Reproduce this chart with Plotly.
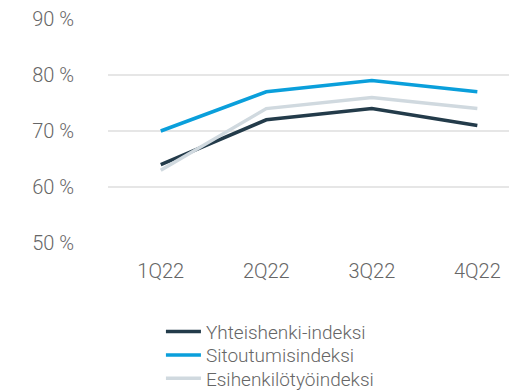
import plotly.graph_objects as go

quarters = ["1Q22", "2Q22", "3Q22", "4Q22"]
yhteishenki = [64, 72, 74, 71]
sitoutumis = [70, 77, 79, 77]
esihenkilo = [63, 74, 76, 74]
y_ticks = [50, 60, 70, 80, 90]
y_tick_text = [f"{v} %" for v in y_ticks]

series = [
    ("Yhteishenki-indeksi", yhteishenki, "#233B4A"),
    ("Sitoutumisindeksi", sitoutumis, "#0A9FDB"),
    ("Esihenkilötyöindeksi", esihenkilo, "#D0D9DF"),
]

FONT = "Roboto, Liberation Sans, Arial, sans-serif"
TEXT = "#666666"

fig = go.Figure()
legend_names = ["legend", "legend2", "legend3"]
for (name, vals, color), lg in zip(series, legend_names):
    fig.add_trace(go.Scatter(
        x=quarters, y=vals, name=name, mode="lines",
        line=dict(color=color, width=3.5), legend=lg,
    ))

# one legend box per series so the row spacing can be set exactly
legend_rows = [-0.396, -0.501, -0.604]
legend_layout = {}
for lg, ypos in zip(legend_names, legend_rows):
    legend_layout[lg] = dict(
        orientation="v", x=0.132, xanchor="left", y=ypos, yanchor="middle",
        font=dict(family=FONT, size=19, color=TEXT, weight=300),
        bgcolor="rgba(0,0,0,0)", itemwidth=35,
    )

fig.update_layout(
    width=509, height=390,
    margin=dict(l=108, r=0, t=19, b=147, autoexpand=False),
    paper_bgcolor="white", plot_bgcolor="white",
    font=dict(family=FONT, size=20, color=TEXT, weight=300),
    showlegend=True,
    **legend_layout,
    xaxis=dict(
        range=[-0.5, 3.3], showgrid=False, zeroline=False, showline=False,
        ticks="", ticklabelstandoff=14,
    ),
    yaxis=dict(
        range=[50, 90], tickvals=y_ticks, ticktext=y_tick_text,
        showgrid=True, gridcolor="#E6E6E6", gridwidth=1.5,
        zeroline=False, showline=False, ticks="", ticklabelstandoff=33,
    ),
)

fig.write_html("out.html")
